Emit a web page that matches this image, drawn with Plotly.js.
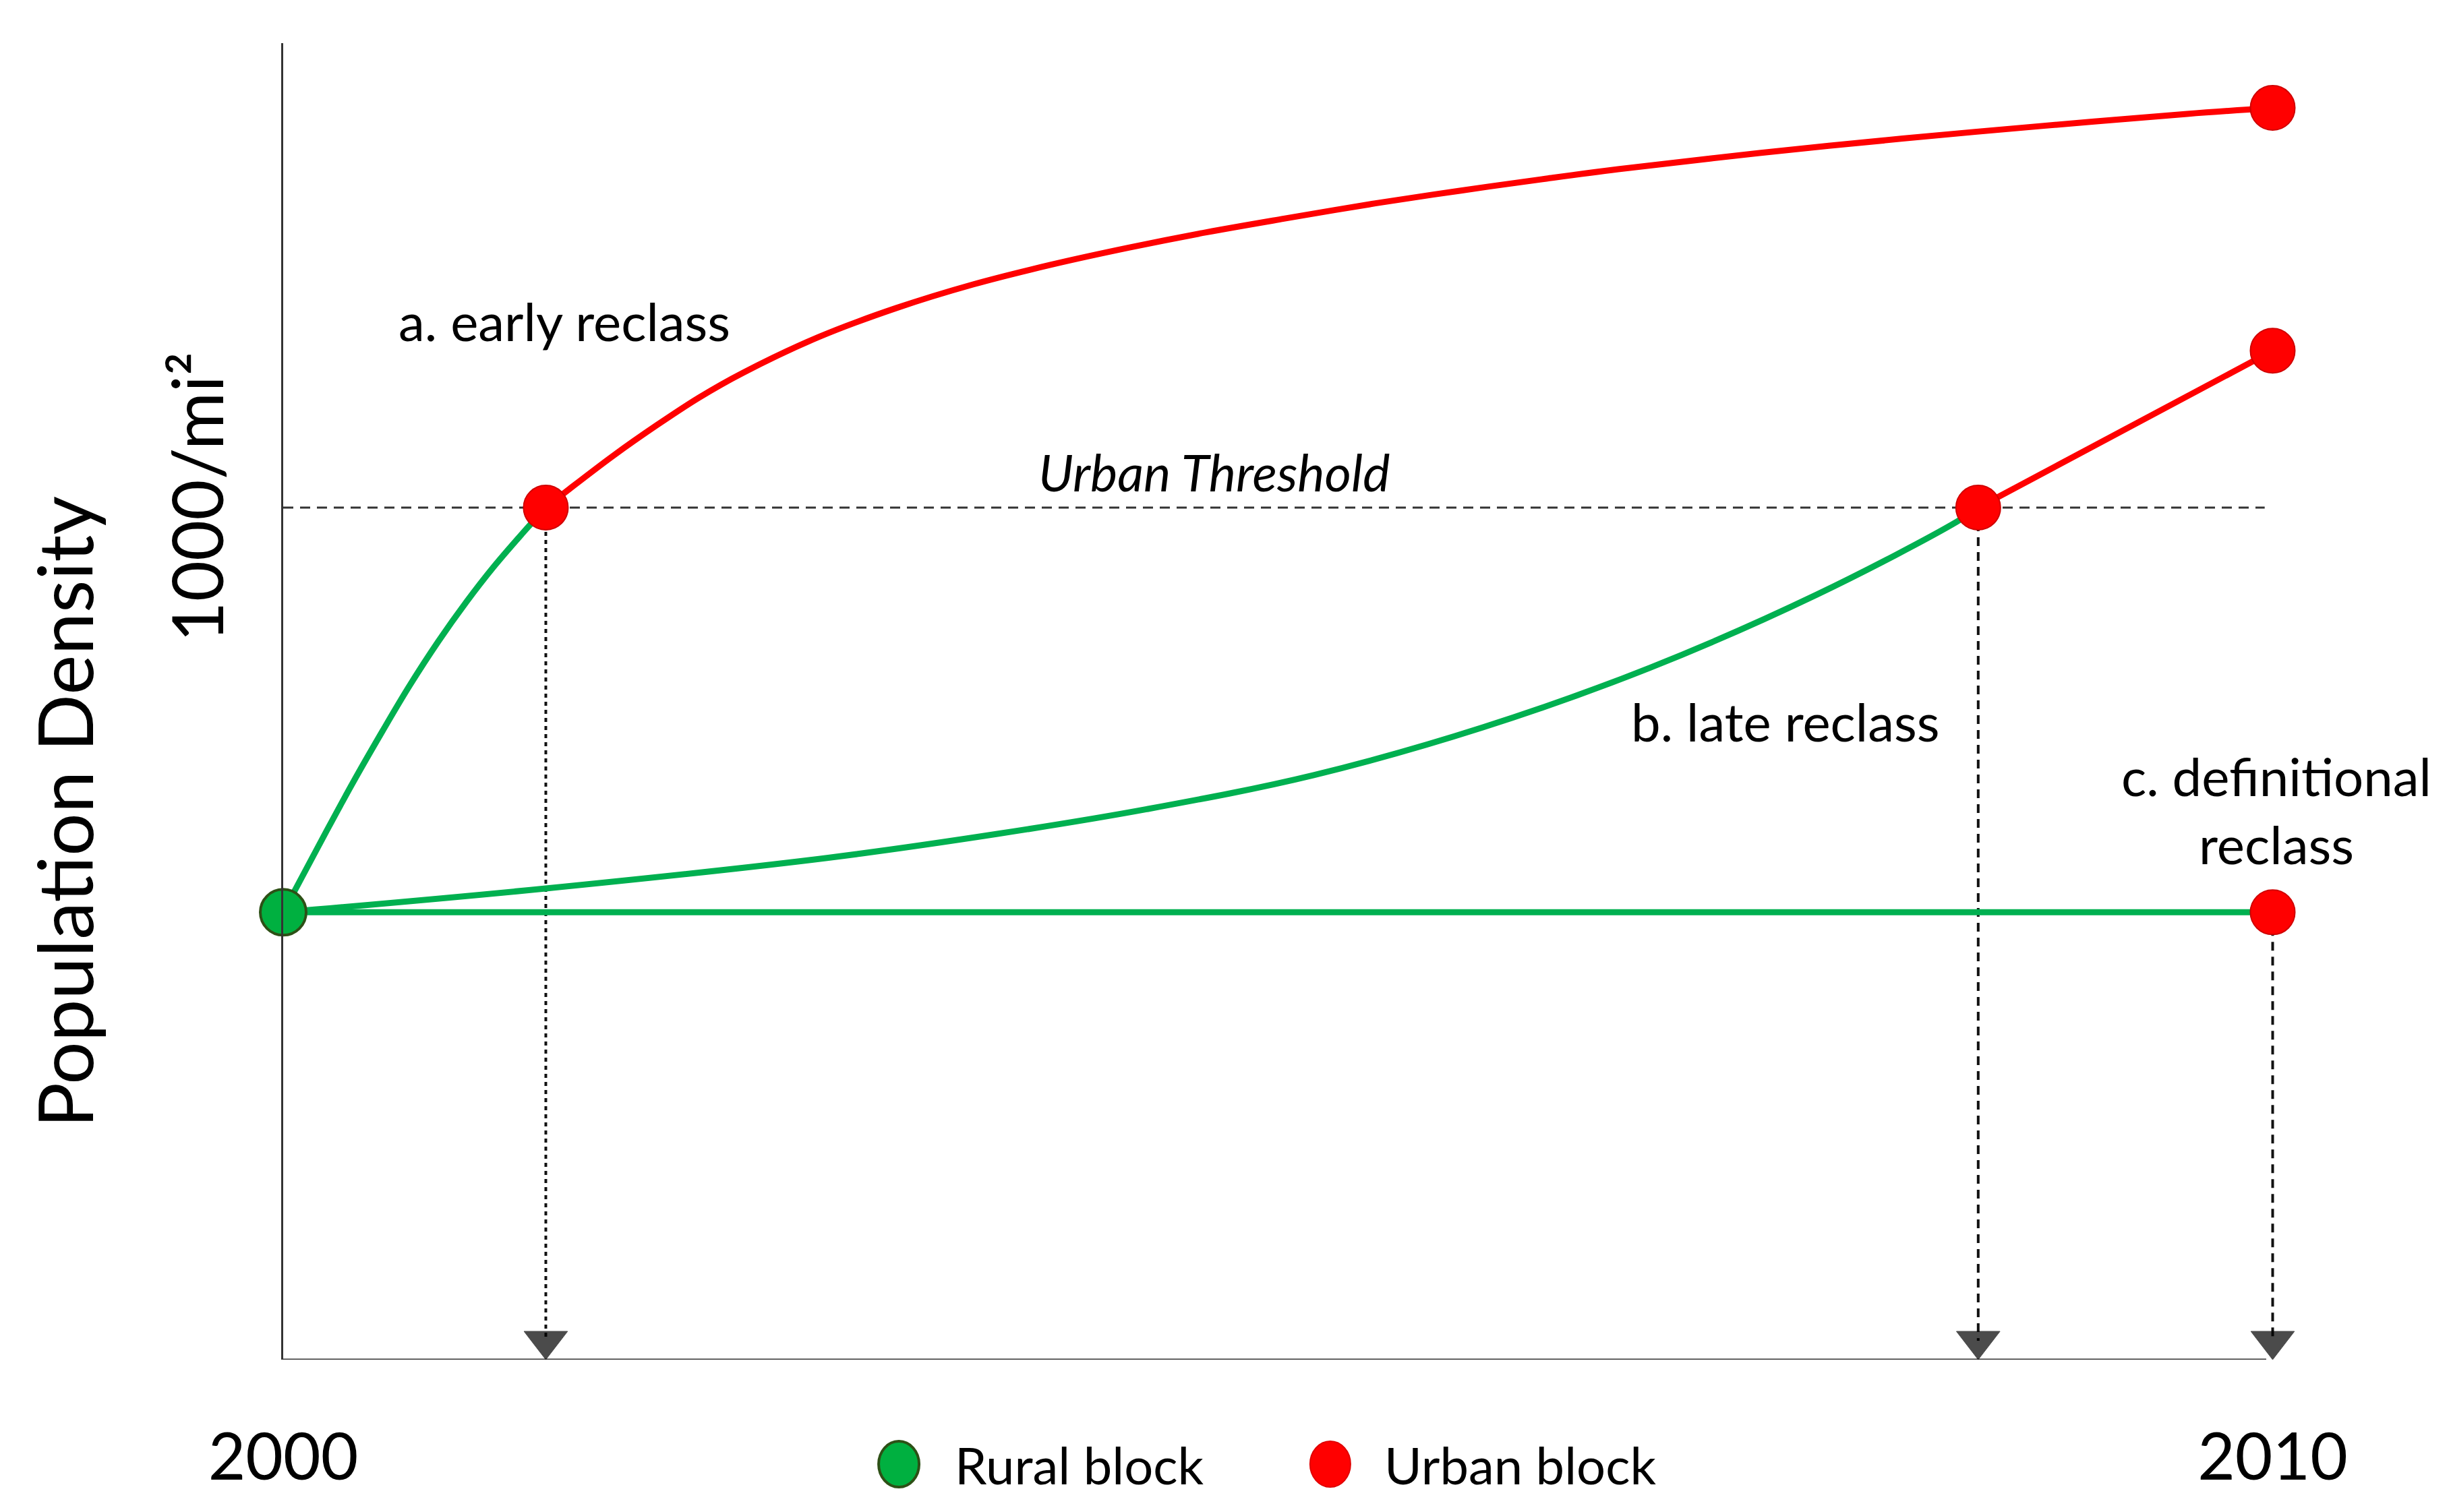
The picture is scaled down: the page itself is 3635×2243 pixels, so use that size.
<!DOCTYPE html>
<html>
<head>
<meta charset="utf-8">
<script src="https://cdn.plot.ly/plotly-3.0.1.min.js"></script>
<style>
  html, body { margin: 0; padding: 0; background: #ffffff; }
  #chart { width: 3635px; height: 2243px; }
</style>
</head>
<body>
<div id="chart"></div>
<script>
// ---------- data ----------
const threshold = 1000;            // urban threshold, persons per sq. mile
const yearTicks = [2000, 2010];
const yearLabels = ['2000', '2010'];

// a. early reclass
const aRuralYears = [2000, 2000.21, 2000.35, 2000.50, 2000.63, 2000.78, 2000.92, 2001.06, 2001.20, 2001.32];
const aRuralDens  = [525, 617, 677, 738, 789, 843, 889, 931, 969, 1000];
const aUrbanYears = [2001.32, 2001.44, 2001.66, 2001.88, 2002.09, 2002.31, 2002.69, 2003.08, 2003.47, 2003.86, 2004.25,
                     2004.64, 2005.03, 2005.49, 2005.92, 2006.35, 2006.71, 2007.42, 2008.14, 2008.85, 2009.57, 2010.00];
const aUrbanDens  = [1000, 1022, 1061, 1097, 1129, 1158, 1200, 1234, 1262, 1285, 1305,
                     1323, 1339, 1357, 1372, 1386, 1397, 1416, 1433, 1448, 1462, 1469];

// b. late reclass
const bRuralYears = [2000, 2001.32, 2002.74, 2003.59, 2004.34, 2005.18, 2006.03, 2006.87, 2007.71, 2008.41, 2008.52];
const bRuralDens  = [525, 553, 589, 617, 646, 686, 742, 812, 898, 983, 1000];
const bUrbanYears = [2008.52, 2010.00];
const bUrbanDens  = [1000, 1184];

// c. definitional reclass
const cRuralYears = [2000, 2010];
const cRuralDens  = [525, 525];
const cUrbanYears = [2010];
const cUrbanDens  = [525];

// ---------- styling ----------
const GREEN = '#00B050';
const RED = '#FF0000';
const FONT = 'Lato, "Open Sans", "DejaVu Sans", sans-serif';
const last = a => a[a.length - 1];

// reclass moments (where the arrows drop to the time axis)
const arrowYears = [last(aRuralYears), last(bRuralYears), cUrbanYears[0]];
const arrowDens  = [last(aRuralDens),  last(bRuralDens),  cUrbanDens[0]];
const arrowDash  = ['6px,6px', '13px,9px', '13px,9px'];

const traces = [];

// dashed drop arrows
arrowYears.forEach((yr, i) => {
  traces.push({
    type: 'scatter', mode: 'lines+markers', showlegend: false, hoverinfo: 'skip', cliponaxis: false,
    x: [yr, yr], y: [arrowDens[i], 0],
    line: { color: '#111111', width: 4, dash: arrowDash[i] },
    marker: { symbol: 'triangle-up', angleref: 'previous', size: [0, 56], standoff: [0, 28],
              color: '#000000', line: { color: '#000000', width: 1 } }
  });
});

// curves
function curve(x, y, color, shape) {
  return {
    type: 'scatter', mode: 'lines', showlegend: false, hoverinfo: 'skip', cliponaxis: false,
    x: x, y: y, line: { color: color, width: 9, shape: shape || 'spline', smoothing: 1.0 }
  };
}
traces.push(curve(cRuralYears, cRuralDens, GREEN, 'linear'));
traces.push(curve(bRuralYears, bRuralDens, GREEN));
traces.push(curve(aRuralYears, aRuralDens, GREEN));
traces.push(curve(bUrbanYears, bUrbanDens, RED, 'linear'));
traces.push(curve(aUrbanYears, aUrbanDens, RED));

// rural block marker (start)
traces.push({
  type: 'scatter', mode: 'markers', name: 'Rural block', showlegend: false, cliponaxis: false,
  x: [aRuralYears[0]], y: [aRuralDens[0]],
  marker: { size: 68, color: '#00B040', line: { color: '#2D5016', width: 4 } }
});

// urban block markers
traces.push({
  type: 'scatter', mode: 'markers', name: 'Urban block', showlegend: false, cliponaxis: false,
  x: [last(aRuralYears), last(aUrbanYears), last(bRuralYears), last(bUrbanYears), last(cUrbanYears)],
  y: [last(aRuralDens),  last(aUrbanDens),  last(bRuralDens),  last(bUrbanDens),  last(cUrbanDens)],
  marker: { size: 66, color: RED, line: { color: '#D00000', width: 2 } }
});

const txt = (size, extra) => Object.assign({ family: FONT, size: size, color: '#000000' }, extra || {});

const layout = {
  width: 3635, height: 2243,
  margin: { l: 420, r: 235, t: 64, b: 226 },
  paper_bgcolor: '#ffffff', plot_bgcolor: '#ffffff',
  showlegend: false,
  font: txt(76),
  xaxis: {
    range: [2000, 2010.1], showgrid: false, zeroline: false, showline: false,
    tickmode: 'array', tickvals: yearTicks, ticktext: yearLabels,
    ticks: 'outside', ticklen: 62, tickcolor: 'rgba(0,0,0,0)',
    tickfont: txt(96), fixedrange: true
  },
  yaxis: {
    range: [0, 1545], showgrid: false, zeroline: false,
    showline: true, linecolor: '#333333', linewidth: 3,
    tickmode: 'array', tickvals: [threshold], ticktext: ['1000/mi²'], tickangle: -90,
    ticks: 'outside', ticklen: 44, tickcolor: 'rgba(0,0,0,0)',
    tickfont: txt(104), fixedrange: true
  },
  shapes: [
    // time axis line (stops just short of 2010, as in the original)
    { type: 'line', xref: 'paper', yref: 'y', layer: 'below',
      x0: -0.0005, x1: 0.9869, y0: 0, y1: 0, line: { color: '#333333', width: 3 } },
    // urban threshold
    { type: 'line', xref: 'x', yref: 'y', layer: 'below',
      x0: yearTicks[0], x1: 2009.96, y0: threshold, y1: threshold,
      line: { color: '#333333', width: 3, dash: '15px,10px' } },
    // legend swatches
    { type: 'circle', xref: 'paper', yref: 'paper', xsizemode: 'pixel', ysizemode: 'pixel',
      xanchor: 0.3064, yanchor: -0.0794, x0: -30, x1: 30, y0: -34, y1: 34,
      fillcolor: '#00B040', line: { color: '#2D5016', width: 4 } },
    { type: 'circle', xref: 'paper', yref: 'paper', xsizemode: 'pixel', ysizemode: 'pixel',
      xanchor: 0.5211, yanchor: -0.0794, x0: -30, x1: 30, y0: -34, y1: 34,
      fillcolor: RED, line: { color: '#E00000', width: 2 } }
  ],
  annotations: [
    { xref: 'x', yref: 'y', x: 2001.414, y: 1219, text: 'a. early reclass', showarrow: false, font: txt(78) },
    { xref: 'x', yref: 'y', x: 2004.678, y: 1042, text: '<i>Urban Threshold</i>', showarrow: false, font: txt(76) },
    { xref: 'x', yref: 'y', x: 2007.55, y: 749, text: 'b. late reclass', showarrow: false, font: txt(78) },
    { xref: 'x', yref: 'y', x: 2010.02, y: 645, text: 'c. definitional<br>reclass', showarrow: false, font: txt(78) },
    { xref: 'paper', yref: 'paper', x: -0.1090, y: 0.4158, text: 'Population Density', textangle: -90,
      showarrow: false, xanchor: 'center', yanchor: 'middle', font: txt(112) },
    { xref: 'paper', yref: 'paper', x: 0.3336, y: -0.0794, text: 'Rural block', showarrow: false,
      xanchor: 'left', yanchor: 'middle', font: txt(76) },
    { xref: 'paper', yref: 'paper', x: 0.5473, y: -0.0794, text: 'Urban block', showarrow: false,
      xanchor: 'left', yanchor: 'middle', font: txt(76) }
  ]
};

Plotly.newPlot('chart', traces, layout, { staticPlot: true, displayModeBar: false });
</script>
</body>
</html>
